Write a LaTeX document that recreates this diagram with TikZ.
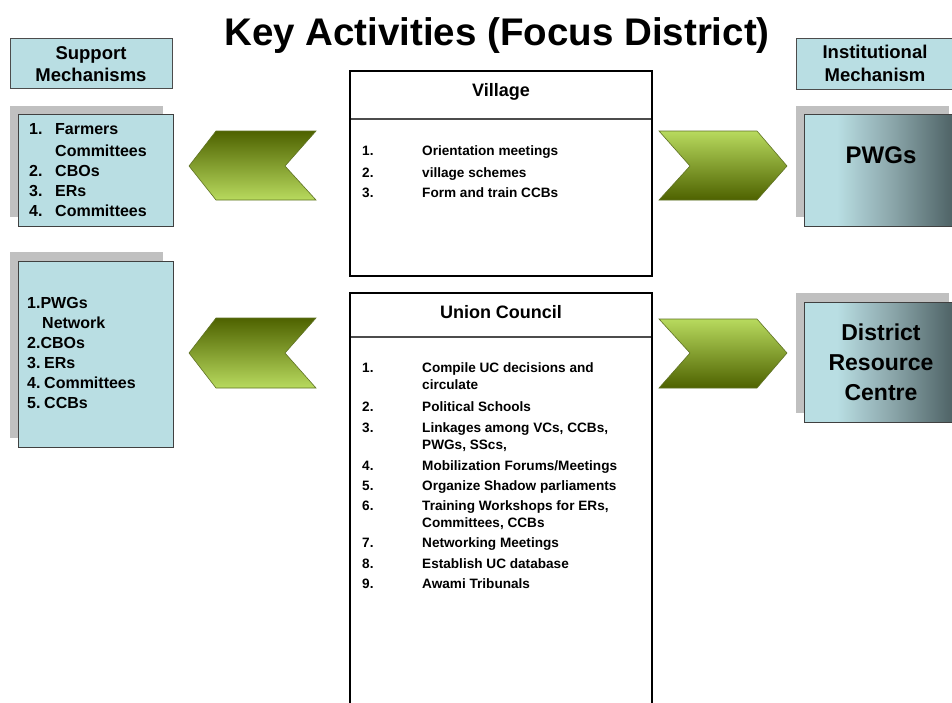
\documentclass[tikz,border=0pt]{standalone}
\usepackage{fontspec}
\setmainfont{Liberation Sans}
\usetikzlibrary{shadings}
\definecolor{lb}{HTML}{B9DEE3}
\definecolor{sh}{HTML}{C0C0C0}
\definecolor{dk}{HTML}{4F6366}
\definecolor{md}{HTML}{8AA5A9}
\definecolor{gdark}{HTML}{4E6200}
\definecolor{glight}{HTML}{B8DA5E}
\definecolor{gedge}{HTML}{5F7224}
\pgfdeclarehorizontalshading{slate}{100bp}{color(0bp)=(lb); color(25bp)=(lb); color(36bp)=(lb); color(55bp)=(md); color(75bp)=(dk); color(100bp)=(dk)}
\tikzset{
  lbl/.style={font=\bfseries\fontsize{#1}{#1}\selectfont, inner sep=0pt},
  lbl/.default=16,
  itm/.style={font=\bfseries\fontsize{13.6}{14}\selectfont, inner sep=0pt, anchor=base west},
  lst/.style={font=\bfseries\fontsize{16}{16}\selectfont, inner sep=0pt, anchor=base west},
  hdr/.style={fill=lb, draw=black!70, line width=0.9pt},
  shadowbox/.style={fill=sh},
  listbox/.style={fill=lb, draw=black!75, line width=0.9pt},
  gradbox/.style={shading=slate, draw=black!75, line width=0.9pt},
  actbox/.style={draw=black, line width=2.6pt, fill=white},
  sepline/.style={draw=black!70, line width=1.2pt},
  larrow/.style={top color=gdark, bottom color=glight, draw=gedge, line width=0.6pt},
  rarrow/.style={top color=glight, bottom color=gdark, draw=gedge, line width=0.6pt},
}
\begin{document}
\begin{tikzpicture}[x=1pt,y=-1pt]
\useasboundingbox (0,0) rectangle (952,702);
\clip (0,0) rectangle (952,702);
\fill[white] (0,0) rectangle (952,702);

% title
\node[lbl=38.5, anchor=base] (title) at (497,45) {Key Activities (Focus District)};

% header boxes
\path[hdr] (10,38) rectangle (172,88);
\node[lbl=18.5, anchor=base] (sup1) at (91,59) {Support};
\node[lbl=18.5, anchor=base] (sup2) at (91,81) {Mechanisms};
\path[hdr] (796,38) rectangle (955,89);
\node[lbl=18.5, anchor=base] (ins1) at (875,58) {Institutional};
\node[lbl=18.5, anchor=base] (ins2) at (875,81) {Mechanism};

% left list box 1
\fill[shadowbox] (10,106) rectangle (163,217);
\path[listbox] (18,114) rectangle (173,226);
\node[lst] (a1n) at (29,134) {1.};
\node[lst] (a1) at (55,134) {Farmers};
\node[lst] (a1b) at (55,156) {Committees};
\node[lst] (a2n) at (29,176) {2.};
\node[lst] (a2) at (55,176) {CBOs};
\node[lst] (a3n) at (29,196) {3.};
\node[lst] (a3) at (55,196) {ERs};
\node[lst] (a4n) at (29,216) {4.};
\node[lst] (a4) at (55,216) {Committees};

% left list box 2
\fill[shadowbox] (10,252) rectangle (163,438);
\path[listbox] (18,261) rectangle (173,447);
\node[lst] (b1) at (27,308) {1.PWGs};
\node[lst] (b1b) at (42,328) {Network};
\node[lst] (b2) at (27,348) {2.CBOs};
\node[lst] (b3n) at (27,368) {3.};
\node[lst] (b3) at (44,368) {ERs};
\node[lst] (b4n) at (27,388) {4.};
\node[lst] (b4) at (44,388) {Committees};
\node[lst] (b5n) at (27,408) {5.};
\node[lst] (b5) at (44,408) {CCBs};

% left arrows
\path[larrow] (189,166) -- (216,131) -- (316,131) -- (285,166) -- (316,200) -- (216,200) -- cycle;
\path[larrow] (189,353) -- (216,318) -- (316,318) -- (285,353) -- (316,388) -- (216,388) -- cycle;

% right arrows
\path[rarrow] (659,131) -- (757,131) -- (787,166) -- (757,200) -- (659,200) -- (690,166) -- cycle;
\path[rarrow] (659,319) -- (757,319) -- (787,353) -- (757,388) -- (659,388) -- (690,353) -- cycle;

% right boxes
\fill[shadowbox] (796,106) rectangle (949,217);
\path[gradbox] (804,114) rectangle (952.5,226);
\node[lbl=24, anchor=base] (pwg) at (881,163) {PWGs};
\fill[shadowbox] (796,293) rectangle (949,413);
\path[gradbox] (804,302) rectangle (952.5,422);
\node[lbl=23, anchor=base] (drc1) at (881,340) {District};
\node[lbl=23, anchor=base] (drc2) at (881,370) {Resource};
\node[lbl=23, anchor=base] (drc3) at (881,400) {Centre};

% village box
\path[actbox] (350,71) rectangle (652,276);
\draw[sepline] (351,119) -- (651,119);
\node[lbl=18, anchor=base] (vil) at (501,96) {Village};
\node[itm] (v1n) at (362,155) {1.};
\node[itm] (v1) at (422,155) {Orientation meetings};
\node[itm] (v2n) at (362,177) {2.};
\node[itm] (v2) at (422,177) {village schemes};
\node[itm] (v3n) at (362,197) {3.};
\node[itm] (v3) at (422,197) {Form and train CCBs};

% union council box
\path[actbox] (350,293) rectangle (652,720);
\draw[sepline] (351,337) -- (651,337);
\node[lbl=18, anchor=base] (uc) at (501,318) {Union Council};
\node[itm] (u1n) at (362,372) {1.};
\node[itm] (u1) at (422,372) {Compile UC decisions and};
\node[itm] (u1b) at (422,389) {circulate};
\node[itm] (u2n) at (362,411) {2.};
\node[itm] (u2) at (422,411) {Political Schools};
\node[itm] (u3n) at (362,432) {3.};
\node[itm] (u3) at (422,432) {Linkages among VCs, CCBs,};
\node[itm] (u3b) at (422,449) {PWGs, SScs,};
\node[itm] (u4n) at (362,470) {4.};
\node[itm] (u4) at (422,470) {Mobilization Forums/Meetings};
\node[itm] (u5n) at (362,490) {5.};
\node[itm] (u5) at (422,490) {Organize Shadow parliaments};
\node[itm] (u6n) at (362,510) {6.};
\node[itm] (u6) at (422,510) {Training Workshops for ERs,};
\node[itm] (u6b) at (422,527) {Committees, CCBs};
\node[itm] (u7n) at (362,547) {7.};
\node[itm] (u7) at (422,547) {Networking Meetings};
\node[itm] (u8n) at (362,568) {8.};
\node[itm] (u8) at (422,568) {Establish UC database};
\node[itm] (u9n) at (362,588) {9.};
\node[itm] (u9) at (422,588) {Awami Tribunals};
\end{tikzpicture}
\end{document}
